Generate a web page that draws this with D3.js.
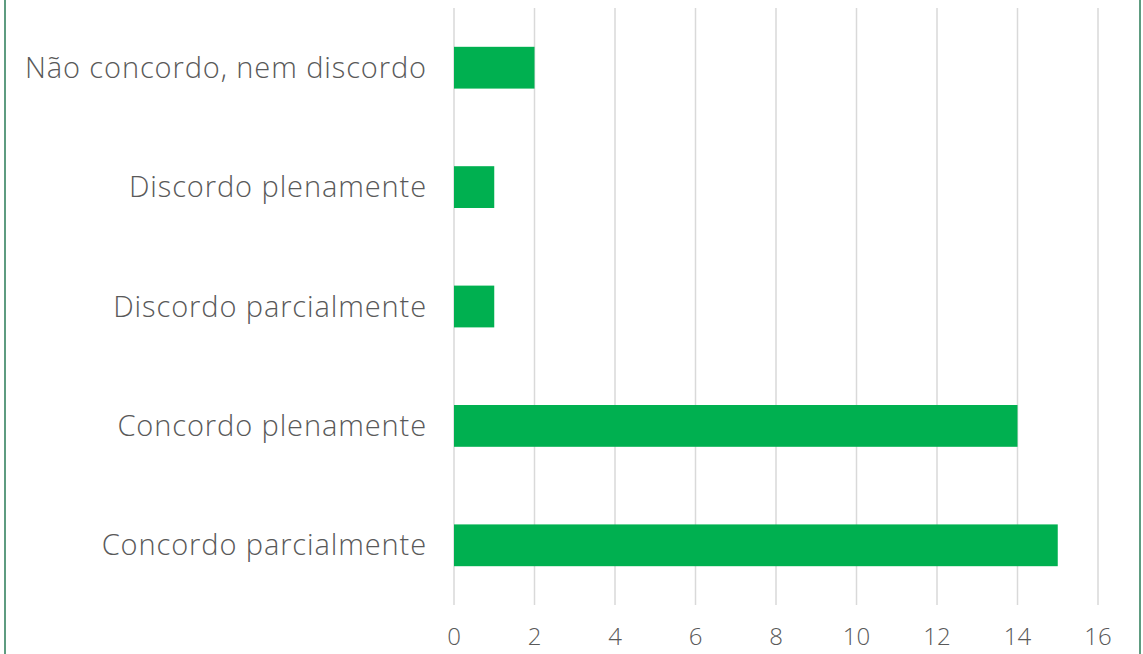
<!DOCTYPE html>
<html><head><meta charset="utf-8">
<script src="https://cdn.jsdelivr.net/npm/d3@7"></script>
<style>body{margin:0;background:#fff}svg{display:block}</style>
</head><body>
<svg id="c" width="1143" height="654"></svg>
<script>
const categories = ["Não concordo, nem discordo","Discordo plenamente","Discordo parcialmente","Concordo plenamente","Concordo parcialmente"];
const values = [2,1,1,14,15];
const ticks = [0,2,4,6,8,10,12,14,16];

const svg = d3.select("#c");
const font = "'Open Sans', 'DejaVu Sans', sans-serif";
// border
svg.append("line").attr("x1",5).attr("x2",5).attr("y1",0).attr("y2",654).attr("stroke","#5e9c80").attr("stroke-width",2);
svg.append("line").attr("x1",1140).attr("x2",1140).attr("y1",0).attr("y2",654).attr("stroke","#5e9c80").attr("stroke-width",2);

const x = d3.scaleLinear().domain([0,16]).range([454,1098]);
const y = d3.scaleBand().domain(categories).range([8,605]).paddingInner(0.65).paddingOuter(0.325);

svg.append("g").selectAll("line").data(ticks).join("line")
  .attr("x1",d=>x(d)).attr("x2",d=>x(d)).attr("y1",8).attr("y2",605)
  .attr("stroke","#d9d9d9").attr("stroke-width",1.5);

svg.append("g").selectAll("rect").data(values).join("rect")
  .attr("x",x(0)).attr("y",(d,i)=>y(categories[i]))
  .attr("width",d=>x(d)-x(0)).attr("height",y.bandwidth())
  .attr("fill","#00b050");

svg.append("g").selectAll("text").data(categories).join("text")
  .attr("x",427).attr("y",d=>y(d)+y.bandwidth()/2).attr("dy","0.35em")
  .attr("text-anchor","end").attr("font-family",font).attr("font-size",29).attr("font-weight",300)
  .attr("letter-spacing",0.9)
  .attr("fill","#595959").text(d=>d);

svg.append("g").selectAll("text").data(ticks).join("text")
  .attr("x",d=>x(d)).attr("y",645)
  .attr("text-anchor","middle").attr("font-family",font).attr("font-size",24).attr("font-weight",300)
  .attr("fill","#595959").text(d=>d);
</script>
</body></html>
